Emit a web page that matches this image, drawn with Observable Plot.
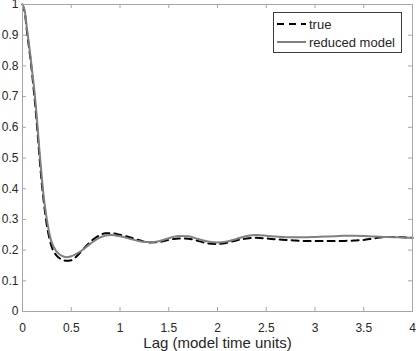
<!DOCTYPE html>
<html>
<head>
<meta charset="utf-8">
<script src="https://cdn.jsdelivr.net/npm/d3@7"></script>
<script src="https://cdn.jsdelivr.net/npm/@observablehq/plot@0.6"></script>
<style>
  html, body { margin: 0; padding: 0; background: #fff; }
  #wrap { position: relative; width: 416px; height: 351px; font-family: "Liberation Sans", Arial, sans-serif; }
  #legend { position: absolute; left: 273px; top: 12px; width: 129px; height: 41px; border: 1px solid #3a3a3a; background: #fff; box-sizing: border-box; font-size: 13px; color: #262626; }
  #legend .row { position: absolute; left: 0; height: 18px; display: flex; align-items: center; }
  #legend svg { display: block; margin-left: 2px; margin-right: 3px; }
</style>
</head>
<body>
<div id="wrap"></div>
<script>
const lagsTrue = [0, 0.025, 0.05, 0.075, 0.1, 0.125, 0.15, 0.175, 0.2, 0.225, 0.25, 0.275, 0.3, 0.35, 0.4, 0.45, 0.5, 0.55, 0.6, 0.7, 0.8, 0.85, 0.9, 1.0, 1.1, 1.2, 1.3, 1.4, 1.5, 1.6, 1.7, 1.8, 1.9, 2.0, 2.1, 2.2, 2.3, 2.4, 2.5, 2.6, 2.7, 2.8, 2.9, 3.0, 3.1, 3.2, 3.3, 3.4, 3.5, 3.6, 3.7, 3.8, 3.9, 4.0];
const acfTrue = [1.0, 0.97, 0.9, 0.84, 0.77, 0.69, 0.6, 0.5, 0.41, 0.34, 0.28, 0.24, 0.21, 0.182, 0.17, 0.165, 0.167, 0.178, 0.195, 0.228, 0.25, 0.255, 0.255, 0.25, 0.242, 0.232, 0.225, 0.226, 0.233, 0.238, 0.237, 0.23, 0.222, 0.22, 0.224, 0.232, 0.238, 0.24, 0.238, 0.235, 0.233, 0.231, 0.23, 0.23, 0.23, 0.23, 0.23, 0.231, 0.233, 0.238, 0.242, 0.243, 0.242, 0.24];

const lagsModel = [0, 0.025, 0.05, 0.075, 0.1, 0.125, 0.15, 0.175, 0.2, 0.225, 0.25, 0.275, 0.3, 0.35, 0.4, 0.45, 0.5, 0.6, 0.7, 0.8, 0.9, 1.0, 1.1, 1.2, 1.3, 1.4, 1.5, 1.6, 1.7, 1.8, 1.9, 2.0, 2.1, 2.2, 2.3, 2.4, 2.5, 2.6, 2.7, 2.8, 2.9, 3.0, 3.1, 3.2, 3.3, 3.4, 3.5, 3.6, 3.7, 3.8, 3.9, 4.0];
const acfModel = [1.0, 0.975, 0.91, 0.85, 0.78, 0.71, 0.62, 0.52, 0.43, 0.355, 0.3, 0.255, 0.225, 0.195, 0.182, 0.177, 0.18, 0.197, 0.222, 0.242, 0.249, 0.245, 0.237, 0.229, 0.226, 0.229, 0.239, 0.246, 0.245, 0.236, 0.228, 0.225, 0.228, 0.237, 0.246, 0.249, 0.247, 0.244, 0.242, 0.242, 0.242, 0.243, 0.244, 0.245, 0.247, 0.247, 0.246, 0.244, 0.243, 0.242, 0.241, 0.24];

const xTicks = [0, 0.5, 1, 1.5, 2, 2.5, 3, 3.5, 4];
const yTicks = [0, 0.1, 0.2, 0.3, 0.4, 0.5, 0.6, 0.7, 0.8, 0.9, 1];
const xLabel = "Lag (model time units)";
const seriesNames = ["true", "reduced model"];

const trueData = lagsTrue.map((x, i) => ({x, y: acfTrue[i]}));
const modelData = lagsModel.map((x, i) => ({x, y: acfModel[i]}));

const axisColor = "#a6a6a6";
const textColor = "#262626";

const chart = Plot.plot({
  width: 416,
  height: 351,
  marginLeft: 22,
  marginRight: 4,
  marginTop: 4,
  marginBottom: 40,
  style: {fontFamily: "'Liberation Sans', Arial, sans-serif", fontSize: "12px", color: textColor, background: "#fff", overflow: "visible"},
  x: {domain: [0, 4]},
  y: {domain: [0, 1]},
  marks: [
    Plot.tickX(xTicks, {x: d => d, insetTop: 303, stroke: axisColor}),
    Plot.tickX(xTicks, {x: d => d, insetBottom: 303, stroke: axisColor}),
    Plot.tickY(yTicks, {y: d => d, insetRight: 386, stroke: axisColor}),
    Plot.tickY(yTicks, {y: d => d, insetLeft: 386, stroke: axisColor}),
    Plot.line(trueData, {x: "x", y: "y", stroke: "#000", strokeWidth: 2, strokeDasharray: "7,5", curve: "monotone-x"}),
    Plot.line(modelData, {x: "x", y: "y", stroke: "#808080", strokeWidth: 2, curve: "monotone-x"}),
    Plot.frame({stroke: axisColor}),
    Plot.axisX({ticks: xTicks, tickSize: 0, tickPadding: 12, tickFormat: d => String(d), label: null, fill: textColor}),
    Plot.axisY({ticks: yTicks, tickSize: 0, tickPadding: 4, tickFormat: d => String(d), label: null, fill: textColor}),
    Plot.text([xLabel], {text: d => d, frameAnchor: "bottom", lineAnchor: "middle", dy: 32, fontSize: 15, fill: textColor})
  ]
});

const wrap = document.getElementById("wrap");
wrap.appendChild(chart);

const legend = document.createElement("div");
legend.id = "legend";
legend.innerHTML = `
  <div class="row" style="top:2px"><svg width="30" height="4"><line x1="1" y1="2" x2="30" y2="2" stroke="#000" stroke-width="2" stroke-dasharray="7,5"/></svg><span>${seriesNames[0]}</span></div>
  <div class="row" style="top:20px"><svg width="30" height="4"><line x1="1" y1="2" x2="30" y2="2" stroke="#808080" stroke-width="2"/></svg><span>${seriesNames[1]}</span></div>`;
wrap.appendChild(legend);
</script>
</body>
</html>
